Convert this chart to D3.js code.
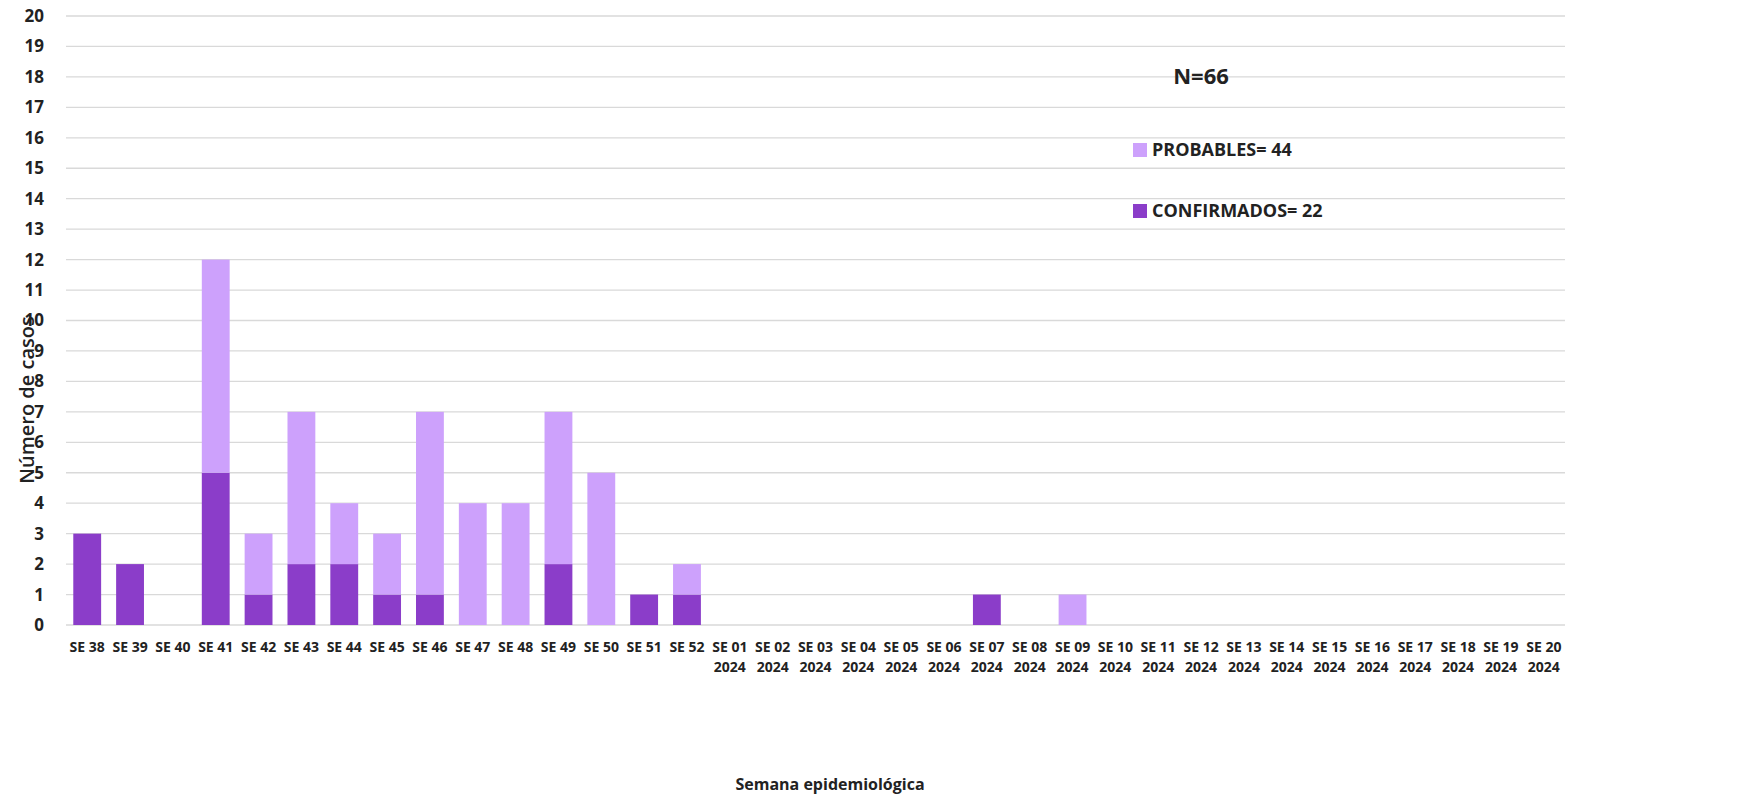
<!DOCTYPE html>
<html><head><meta charset="utf-8">
<script src="https://cdn.jsdelivr.net/npm/d3@7"></script>
<style>
body{margin:0;background:#fff;font-family:"Open Sans","Noto Sans",sans-serif;}
text{font-family:"Open Sans","Noto Sans",sans-serif;}
</style></head><body>
<svg id="chart" width="1751" height="804"></svg>
<script>
// semanas epidemiológicas
var weeks = ["SE 38","SE 39","SE 40","SE 41","SE 42","SE 43","SE 44","SE 45","SE 46","SE 47","SE 48","SE 49","SE 50","SE 51","SE 52",
  "SE 01 2024","SE 02 2024","SE 03 2024","SE 04 2024","SE 05 2024","SE 06 2024","SE 07 2024","SE 08 2024","SE 09 2024","SE 10 2024",
  "SE 11 2024","SE 12 2024","SE 13 2024","SE 14 2024","SE 15 2024","SE 16 2024","SE 17 2024","SE 18 2024","SE 19 2024","SE 20 2024"];
var confirmados = [3,2,0,5,1,2,2,1,1,0,0,2,0,1,1, 0,0,0,0,0,0,1,0,0,0, 0,0,0,0,0,0,0,0,0,0];
var probables   = [0,0,0,7,2,5,2,2,6,4,4,5,5,0,1, 0,0,0,0,0,0,0,0,1,0, 0,0,0,0,0,0,0,0,0,0];
var yTicks = d3.range(0, 21);

var colConf = "#8b3dc9", colProb = "#cda1fc";
var svg = d3.select("#chart");
var plotL = 66, plotR = 1565, plotT = 16, plotB = 625;

var x = d3.scaleBand().domain(weeks).range([plotL, plotR]).paddingInner(0.35).paddingOuter(0.17);
var y = d3.scaleLinear().domain([0, 20]).range([plotB, plotT]);

// grid
svg.append("g").selectAll("line").data(yTicks).enter().append("line")
  .attr("x1", plotL).attr("x2", plotR)
  .attr("y1", function(d){ return y(d); }).attr("y2", function(d){ return y(d); })
  .attr("stroke", "#d9d9d9").attr("stroke-width", 1.3);

// y labels
svg.append("g").selectAll("text").data(yTicks).enter().append("text")
  .attr("x", 44).attr("y", function(d){ return y(d); }).attr("dy", "0.35em")
  .attr("text-anchor", "end").attr("font-size", 17).attr("font-weight", 700).attr("fill", "#222")
  .text(function(d){ return d; });

// bars
var data = weeks.map(function(w, i){ return {w: w, c: confirmados[i], p: probables[i]}; });
svg.append("g").selectAll("rect").data(data).enter().append("rect")
  .attr("x", function(d){ return x(d.w); }).attr("width", x.bandwidth())
  .attr("y", function(d){ return y(d.c); }).attr("height", function(d){ return y(0) - y(d.c); })
  .attr("fill", colConf);
svg.append("g").selectAll("rect").data(data).enter().append("rect")
  .attr("x", function(d){ return x(d.w); }).attr("width", x.bandwidth())
  .attr("y", function(d){ return y(d.c + d.p); }).attr("height", function(d){ return y(d.c) - y(d.c + d.p); })
  .attr("fill", colProb);

// x labels
var xl = svg.append("g").selectAll("text").data(weeks).enter().append("text")
  .attr("x", function(d){ return x(d) + x.bandwidth()/2; }).attr("y", 652)
  .attr("text-anchor", "middle").attr("font-size", 14).attr("font-weight", 700).attr("fill", "#222");
xl.each(function(d){
  var parts = d.split(" "), t = d3.select(this);
  t.append("tspan").attr("x", t.attr("x")).text(parts[0] + " " + parts[1]);
  if (parts[2]) t.append("tspan").attr("x", t.attr("x")).attr("dy", 20).text(parts[2]);
});

// axis titles
svg.append("text").attr("x", 830).attr("y", 790).attr("text-anchor", "middle")
  .attr("font-size", 16).attr("font-weight", 700).attr("fill", "#222").text("Semana epidemiológica");
svg.append("text").attr("transform", "translate(34,400) rotate(-90)").attr("text-anchor", "middle")
  .attr("font-size", 20).attr("font-weight", 600).attr("fill", "#222").text("Número de casos");

// N and legend
svg.append("text").attr("x", 1201).attr("y", 84).attr("text-anchor", "middle")
  .attr("font-size", 22).attr("font-weight", 700).attr("fill", "#222").text("N=66");
var leg = [{t: "PROBABLES= 44", c: colProb, y: 150}, {t: "CONFIRMADOS= 22", c: colConf, y: 211}];
leg.forEach(function(l){
  svg.append("rect").attr("x", 1133).attr("y", l.y - 7).attr("width", 14).attr("height", 14).attr("fill", l.c);
  svg.append("text").attr("x", 1152).attr("y", l.y).attr("dy", "0.35em")
    .attr("font-size", 18).attr("font-weight", 700).attr("fill", "#222").text(l.t);
});
</script>
</body></html>
